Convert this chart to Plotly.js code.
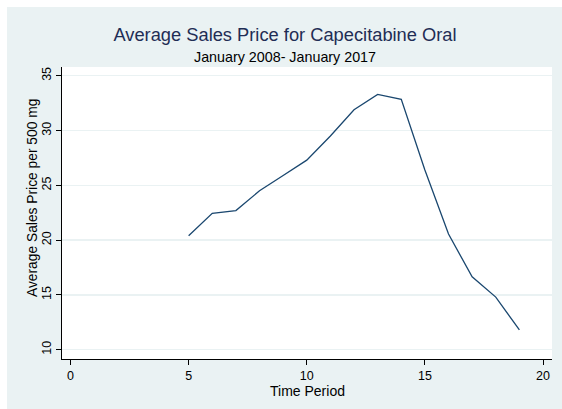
<!DOCTYPE html>
<html>
<head>
<meta charset="utf-8">
<script src="https://cdn.plot.ly/plotly-3.0.1.min.js"></script>
<style>
  html, body { margin: 0; padding: 0; background: #ffffff; }
  #chart { width: 562px; height: 409px; }
</style>
</head>
<body>
<div id="chart"></div>
<script>
// Average sales price of capecitabine oral, per 500 mg, by time period
const timePeriod = [5, 6, 7, 8, 9, 10, 11, 12, 13, 14, 15, 16, 17, 18, 19];
const avgPrice   = [20.4, 22.45, 22.7, 24.5, 25.9, 27.3, 29.5, 31.9, 33.3, 32.85, 26.4, 20.55, 16.65, 14.8, 11.8];

const xTicks = [0, 5, 10, 15, 20];
const yTicks = [10, 15, 20, 25, 30, 35];

const font = 'Liberation Sans, Arial, Helvetica, sans-serif';

// plot region in pixels
const L = 62, R = 10, T = 67, B = 50, W = 562, H = 409;
const pw = W - L - R, ph = H - T - B;
const px = v => (v - L) / pw;          // page x -> paper x
const py = v => 1 - (v - T) / ph;      // page y -> paper y

const trace = {
  x: timePeriod,
  y: avgPrice,
  type: 'scatter',
  mode: 'lines',
  line: { color: '#1a476f', width: 1.3 },
  hoverinfo: 'x+y'
};

const layout = {
  width: W,
  height: H,
  margin: { l: L, r: R, t: T, b: B },
  paper_bgcolor: '#ffffff',
  plot_bgcolor: '#ffffff',
  showlegend: false,
  font: { family: font, color: '#000000', size: 12 },
  title: {
    text: 'Average Sales Price for Capecitabine Oral',
    font: { family: font, size: 18.3, color: '#1f2d55' },
    x: 285 / W, xref: 'container', xanchor: 'center',
    y: 1 - 35 / H, yref: 'container', yanchor: 'middle'
  },
  annotations: [
    {
      text: 'January 2008- January 2017',
      xref: 'paper', yref: 'paper',
      x: px(285), y: py(57),
      xanchor: 'center', yanchor: 'middle',
      showarrow: false,
      font: { family: font, size: 14.3, color: '#000000' }
    },
    {
      text: 'Average Sales Price per 500 mg',
      xref: 'paper', yref: 'paper',
      x: px(32), y: py(198),
      xanchor: 'center', yanchor: 'middle',
      textangle: -90,
      showarrow: false,
      font: { family: font, size: 13.8, color: '#000000' }
    },
    {
      text: 'Time Period',
      xref: 'paper', yref: 'paper',
      x: 0.5, y: py(390.5),
      xanchor: 'center', yanchor: 'middle',
      showarrow: false,
      font: { family: font, size: 14, color: '#000000' }
    }
  ],
  shapes: [
    // outer graph region
    { type: 'rect', xref: 'paper', yref: 'paper', layer: 'below',
      x0: px(7), x1: px(W + 2), y0: py(H + 2), y1: py(7),
      fillcolor: '#eaf2f3', line: { width: 0 } },
    // plot region
    { type: 'rect', xref: 'paper', yref: 'paper', layer: 'below',
      x0: 0, x1: 1, y0: 0, y1: 1,
      fillcolor: '#ffffff', line: { width: 0 } }
  ],
  xaxis: {
    range: [-0.36, 20.38],
    tickvals: xTicks,
    ticktext: xTicks.map(String),
    ticks: 'outside', ticklen: 5, tickwidth: 1, tickcolor: '#000000',
    showline: true, linecolor: '#000000', linewidth: 1,
    showgrid: false, zeroline: false,
    tickfont: { family: font, size: 12.5, color: '#000000' }
  },
  yaxis: {
    range: [9.15, 35.8],
    tickvals: yTicks,
    ticktext: yTicks.map(String),
    tickangle: -90,
    ticks: 'outside', ticklen: 5, tickwidth: 1, tickcolor: '#000000',
    showline: true, linecolor: '#000000', linewidth: 1,
    showgrid: true, gridcolor: '#eaf2f3', gridwidth: 1.3,
    zeroline: false,
    tickfont: { family: font, size: 12.5, color: '#000000' }
  }
};

Plotly.newPlot('chart', [trace], layout, { displayModeBar: false, staticPlot: true });
</script>
</body>
</html>
